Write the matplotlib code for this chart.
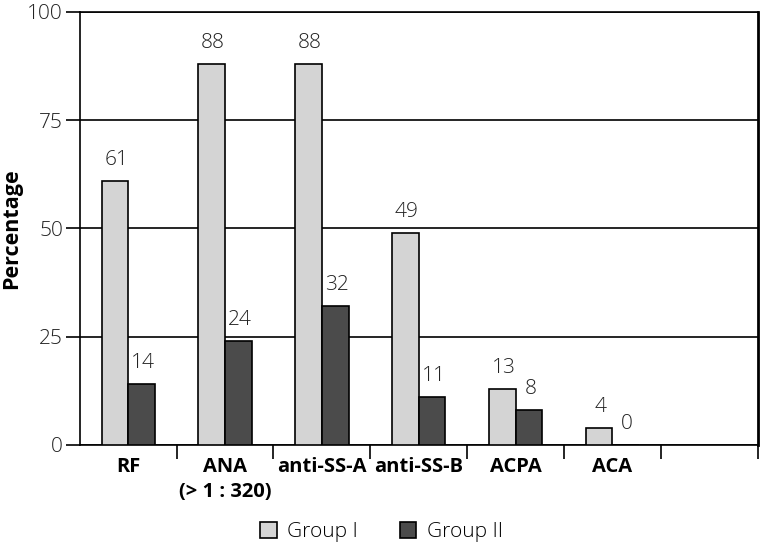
import numpy as np
import matplotlib.pyplot as plt

plt.rcParams['font.family'] = ['Open Sans', 'DejaVu Sans']

categories = ['RF', 'ANA\n(> 1 : 320)', 'anti-SS-A', 'anti-SS-B', 'ACPA', 'ACA', '']
group1 = [61, 88, 88, 49, 13, 4]
group2 = [14, 24, 32, 11, 8, 0]
yticks = [0, 25, 50, 75, 100]

fig = plt.figure(figsize=(7.6, 5.44), dpi=100)
ax = fig.add_axes([0.105, 0.182, 0.892, 0.796])

x = np.arange(len(group1))
w = 0.275
b1 = ax.bar(x - w / 2, group1, w, color='#d4d4d4', edgecolor='black',
            linewidth=1.2, label='Group I', zorder=3)
b2 = ax.bar(x + w / 2, group2, w, color='#4b4b4b', edgecolor='black',
            linewidth=1.2, label='Group II', zorder=3)

for bars in (b1, b2):
    for r in bars:
        ax.annotate('{:d}'.format(int(r.get_height())),
                    (r.get_x() + r.get_width() / 2, r.get_height()),
                    xytext=(1, 8), textcoords='offset points',
                    ha='center', va='bottom', fontsize=15, color='#222222',
                    fontweight='light')

ax.set_xlim(-0.5, len(categories) - 0.5)
ax.set_ylim(0, 100)
ax.set_yticks(yticks)
ax.set_yticklabels([str(t) for t in yticks], fontweight='light')
ax.yaxis.grid(True, color='black', linewidth=1.2, zorder=0)
ax.tick_params(axis='y', length=10, width=1.2, labelsize=15, pad=2,
               labelcolor='#222222')

# category labels centred, tick marks on the boundaries
ax.set_xticks(np.arange(len(categories)))
ax.set_xticklabels(categories, fontweight='bold', fontsize=14.5,
                   linespacing=1.3)
ax.tick_params(axis='x', which='major', length=0, pad=9)
ax.set_xticks(np.arange(len(categories)) + 0.5, minor=True)
ax.tick_params(axis='x', which='minor', length=10, width=1.2)

for s in ax.spines.values():
    s.set_linewidth(1.2)
ax.spines['right'].set_linewidth(2)

ax.set_ylabel('Percentage', fontweight='bold', fontsize=15.5, labelpad=4)

ax.legend(loc='upper center', bbox_to_anchor=(0.445, -0.135), ncol=2,
          frameon=False, fontsize=15, handlelength=0.8, handleheight=0.8,
          columnspacing=2.0, handletextpad=0.5,
          prop={'weight': 'light', 'size': 15})

fig.savefig('out.png', dpi=100)
